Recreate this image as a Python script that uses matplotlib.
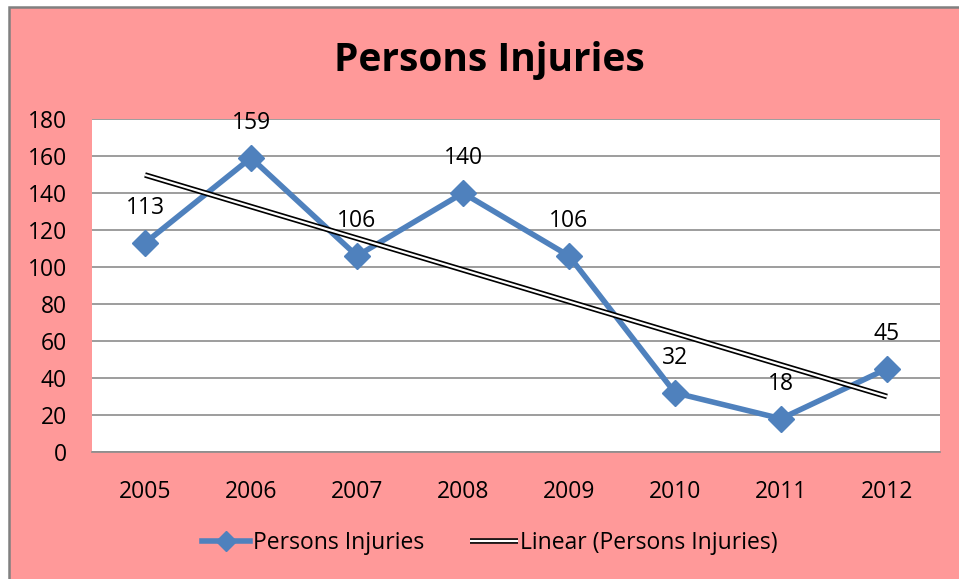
import matplotlib
matplotlib.use("Agg")
import matplotlib.pyplot as plt
import matplotlib.patheffects as pe
from matplotlib.patches import Rectangle
import numpy as np

# data
years = ["2005", "2006", "2007", "2008", "2009", "2010", "2011", "2012"]
injuries = [113, 159, 106, 140, 106, 32, 18, 45]
y_ticks = [0, 20, 40, 60, 80, 100, 120, 140, 160, 180]

BLUE = "#4F81BD"
PINK = "#FF9999"
GRID = "#8C8C8C"

plt.rcParams["font.family"] = ["Open Sans", "DejaVu Sans"]

W, H = 959, 579
fig = plt.figure(figsize=(W / 100, H / 100), dpi=100, facecolor="white")

# pink chart area with grey frame
fig.patches.append(Rectangle((8.5 / W, -0.05), 1.2, 1.05 - 7 / H,
                             transform=fig.transFigure, facecolor=PINK,
                             edgecolor="#808080", linewidth=1.8, zorder=-5))

ax = fig.add_axes([92 / W, 1 - 452 / H, (940 - 92) / W, (452 - 119) / H])
ax.set_zorder(2)
ax.set_facecolor("white")

x = np.arange(len(years))
ax.plot(x, injuries, color=BLUE, linewidth=4, marker="D", markersize=13,
        markeredgecolor=BLUE, label="Persons Injuries", zorder=3)

# linear trendline (least squares), drawn as a double line
slope, icpt = np.polyfit(x, injuries, 1)
ax.plot(x, slope * x + icpt, color="white", linewidth=1.6, zorder=4,
        solid_capstyle="butt",
        path_effects=[pe.Stroke(linewidth=4.0, foreground="black"), pe.Normal()],
        label="Linear (Persons Injuries)")

for xi, v in zip(x, injuries):
    ax.annotate(str(v), (xi, v), xytext=(0, 25), textcoords="offset points",
                ha="center", va="center", fontsize=16.5)

ax.set_xlim(-0.5, len(years) - 0.5)
ax.set_ylim(0, 180)
ax.set_yticks(y_ticks)
ax.set_xticks(x)
ax.set_xticklabels(years)
ax.tick_params(axis="both", length=0, labelsize=16.5)
ax.tick_params(axis="x", pad=20)
ax.tick_params(axis="y", pad=18)
ax.grid(axis="y", color=GRID, linewidth=1.2)
ax.set_axisbelow(True)
for s in ["top", "right", "left"]:
    ax.spines[s].set_visible(False)
ax.spines["bottom"].set_color(GRID)
ax.spines["bottom"].set_linewidth(1.2)

fig.text(489 / W, 1 - 60 / H, "Persons Injuries", ha="center", va="center",
         fontsize=28, fontweight="bold")

fig.legend(loc="center", bbox_to_anchor=(490 / W, 1 - 543 / H), ncol=2,
           frameon=False, fontsize=16.5, handlelength=2.1, handletextpad=0.1,
           columnspacing=2.0, markerscale=0.8)

fig.savefig("out.png", dpi=100, facecolor=fig.get_facecolor())
